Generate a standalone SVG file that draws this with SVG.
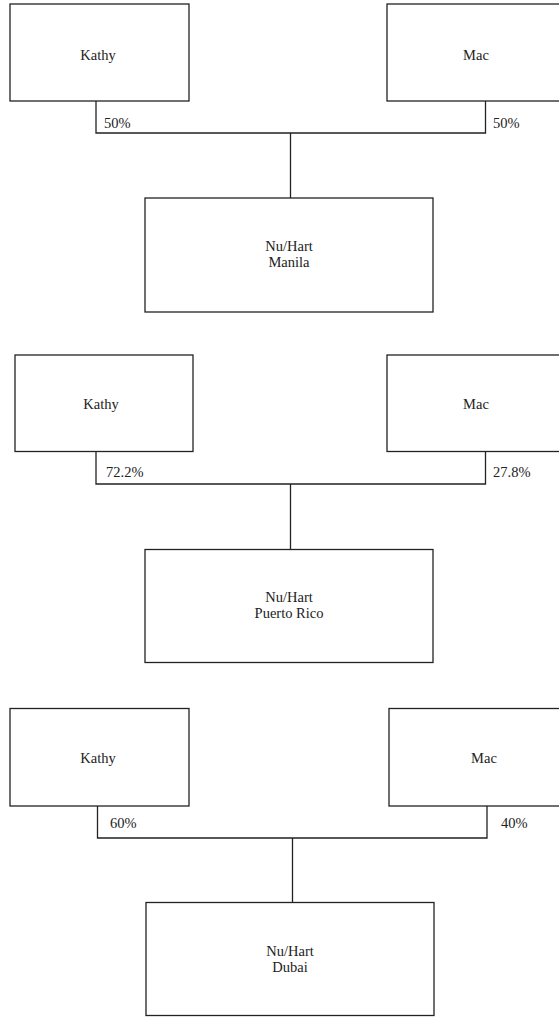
<svg xmlns="http://www.w3.org/2000/svg" width="559" height="1017" viewBox="0 0 559 1017">
<style>
.box{fill:#fff;stroke:#222;stroke-width:1.3}
.conn{fill:none;stroke:#222;stroke-width:1.3}
.t{font-family:'Liberation Serif','DejaVu Serif',serif;font-size:14.5px;fill:#222}
.c{text-anchor:middle}
</style>
<rect width="559" height="1017" fill="#fff"/>
<g id="connectors">
<path class="conn" d="M96,101 V133 H485.5 V101 M290.5,133 V198"/>
<path class="conn" d="M96,451.5 V484 H485.5 V451.5 M290.5,484 V549.5"/>
<path class="conn" d="M97.5,806 V838 H487 V806 M292.5,838 V902.5"/>
</g>
<g id="labels" class="t" font-family="Liberation Serif, serif">
<text x="104" y="128">50%</text>
<text x="493" y="128">50%</text>
<text x="106" y="477">72.2%</text>
<text x="493" y="477">27.8%</text>
<text x="110" y="828">60%</text>
<text x="501" y="828">40%</text>
</g>
<g id="kathy1"><rect class="box" x="10" y="4" width="179" height="97"/><text class="t c" x="98" y="60">Kathy</text></g>
<g id="mac1"><rect class="box" x="387" y="4" width="179" height="97"/><text class="t c" x="476" y="60">Mac</text></g>
<g id="manila"><rect class="box" x="145" y="198" width="288" height="114"/><text class="t c" x="289" y="251">Nu/Hart</text><text class="t c" x="289" y="267">Manila</text></g>
<g id="kathy2"><rect class="box" x="15" y="355" width="178" height="96.5"/><text class="t c" x="101" y="409">Kathy</text></g>
<g id="mac2"><rect class="box" x="387" y="355" width="179" height="96.5"/><text class="t c" x="476" y="409">Mac</text></g>
<g id="puertorico"><rect class="box" x="145" y="549.5" width="288" height="113"/><text class="t c" x="289" y="602">Nu/Hart</text><text class="t c" x="289" y="618">Puerto Rico</text></g>
<g id="kathy3"><rect class="box" x="10" y="708.5" width="179" height="97.5"/><text class="t c" x="98" y="763">Kathy</text></g>
<g id="mac3"><rect class="box" x="389" y="708.5" width="179" height="97.5"/><text class="t c" x="484" y="763">Mac</text></g>
<g id="dubai"><rect class="box" x="146" y="902.5" width="288" height="113"/><text class="t c" x="290" y="956">Nu/Hart</text><text class="t c" x="290" y="972">Dubai</text></g>
</svg>
